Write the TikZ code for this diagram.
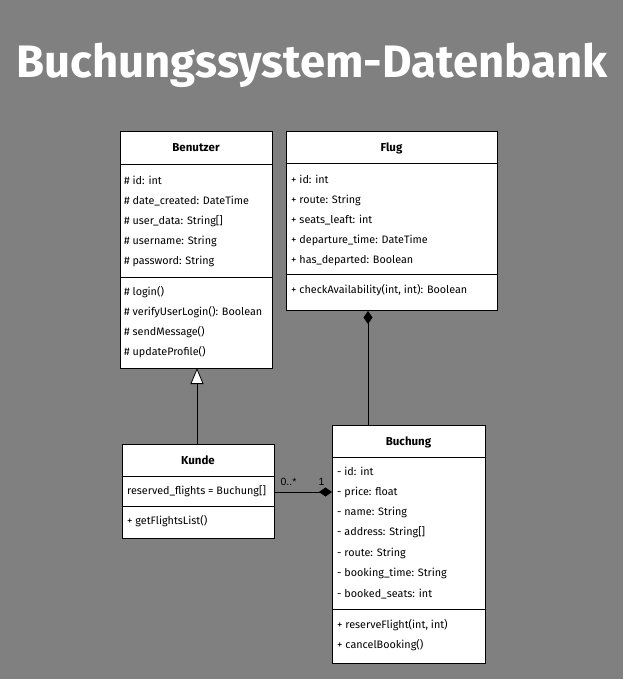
\documentclass[tikz,border=0pt]{standalone}
\usepackage{fontspec}
\setmainfont{Fira Sans}
\newfontfamily\labelfont{Liberation Sans}
\usetikzlibrary{arrows.meta}
\definecolor{bg}{HTML}{808080}
\begin{document}
\begin{tikzpicture}[x=1pt,y=-1pt,
  cls/.style={draw=black, fill=white, line width=0.8pt, anchor=north west, inner sep=0, outer sep=0},
  row/.style={anchor=base west, inner sep=0, font=\fontsize{10.8}{12}\selectfont},
  ttl/.style={anchor=base, inner sep=0, font=\fontsize{11.5}{12}\selectfont\bfseries},
  sep/.style={line width=0.8pt},
  conn/.style={line width=0.8pt},
  mult/.style={anchor=base, inner sep=0, font=\labelfont\fontsize{10.5}{12}\selectfont},
  gen/.style={-{Triangle[open, width=13pt, length=16pt, fill=white]}},
  comp/.style={-{Diamond[width=9pt, length=13pt, fill=black]}}]
\fill[bg] (0,0) rectangle (623,679);
\useasboundingbox (0,0) rectangle (623,679);

\node[anchor=base, inner sep=0, text=white, font=\fontsize{45.5}{50}\selectfont\bfseries] (title) at (312,78) {Buchungssystem-Datenbank};

% Benutzer
\node[cls, minimum width=152pt, minimum height=237pt] (ben) at (120,131) {};
\draw[sep] (120,164) -- (272,164);
\draw[sep] (120,277) -- (272,277);
\node[ttl] (benT) at (196,152) {Benutzer};
\node[row] (ben1) at (124,184) {\# id: int};
\node[row] (ben2) at (124,204) {\# date\_created: DateTime};
\node[row] (ben3) at (124,224) {\# user\_data: String[]};
\node[row] (ben4) at (124,244) {\# username: String};
\node[row] (ben5) at (124,264) {\# password: String};
\node[row] (ben6) at (124,295) {\# login()};
\node[row] (ben7) at (124,315) {\# verifyUserLogin(): Boolean};
\node[row] (ben8) at (124,335) {\# sendMessage()};
\node[row] (ben9) at (124,355) {\# updateProfile()};

% Flug
\node[cls, minimum width=211pt, minimum height=179pt] (flug) at (286,131) {};
\draw[sep] (286,163) -- (497,163);
\draw[sep] (286,274) -- (497,274);
\node[ttl] (flugT) at (391.5,152) {Flug};
\node[row] (fl1) at (291,183) {+ id: int};
\node[row] (fl2) at (291,203) {+ route: String};
\node[row] (fl3) at (291,223) {+ seats\_leaft: int};
\node[row] (fl4) at (291,243) {+ departure\_time: DateTime};
\node[row] (fl5) at (291,263) {+ has\_departed: Boolean};
\node[row] (fl6) at (291,293) {+ checkAvailability(int, int): Boolean};

% Kunde
\node[cls, minimum width=152pt, minimum height=94pt] (kunde) at (122,444) {};
\draw[sep] (122,476) -- (274,476);
\draw[sep] (122,506) -- (274,506);
\node[ttl] (kunT) at (198,464) {Kunde};
\node[row] (ku1) at (127,494) {reserved\_flights = Buchung[]};
\node[row] (ku2) at (127,524) {+ getFlightsList()};

% Buchung
\node[cls, minimum width=153pt, minimum height=238pt] (buch) at (332,425) {};
\draw[sep] (332,457) -- (485,457);
\draw[sep] (332,609) -- (485,609);
\node[ttl] (buT) at (408.5,445) {Buchung};
\node[row] (bu1) at (337,475) {- id: int};
\node[row] (bu2) at (337,495) {- price: float};
\node[row] (bu3) at (337,515) {- name: String};
\node[row] (bu4) at (337,535) {- address: String[]};
\node[row] (bu5) at (337,556) {- route: String};
\node[row] (bu6) at (337,576) {- booking\_time: String};
\node[row] (bu7) at (337,597) {- booked\_seats: int};
\node[row] (bu8) at (337,628) {+ reserveFlight(int, int)};
\node[row] (bu9) at (337,648) {+ cancelBooking()};

% connectors
\coordinate (genS) at (197,444);
\coordinate (genE) at (197,368);
\draw[conn, gen] (genS) -- (genE);
\coordinate (cmpS) at (368,425);
\coordinate (cmpE) at (368,311);
\draw[conn, comp] (cmpS) -- (cmpE);
\coordinate (kbS) at (274,492);
\coordinate (kbE) at (332,492);
\draw[conn, comp] (kbS) -- (kbE);
\node[mult] (m0) at (288.5,485) {0..*};
\node[mult] (m1) at (321.5,485) {1};
\end{tikzpicture}
\end{document}
